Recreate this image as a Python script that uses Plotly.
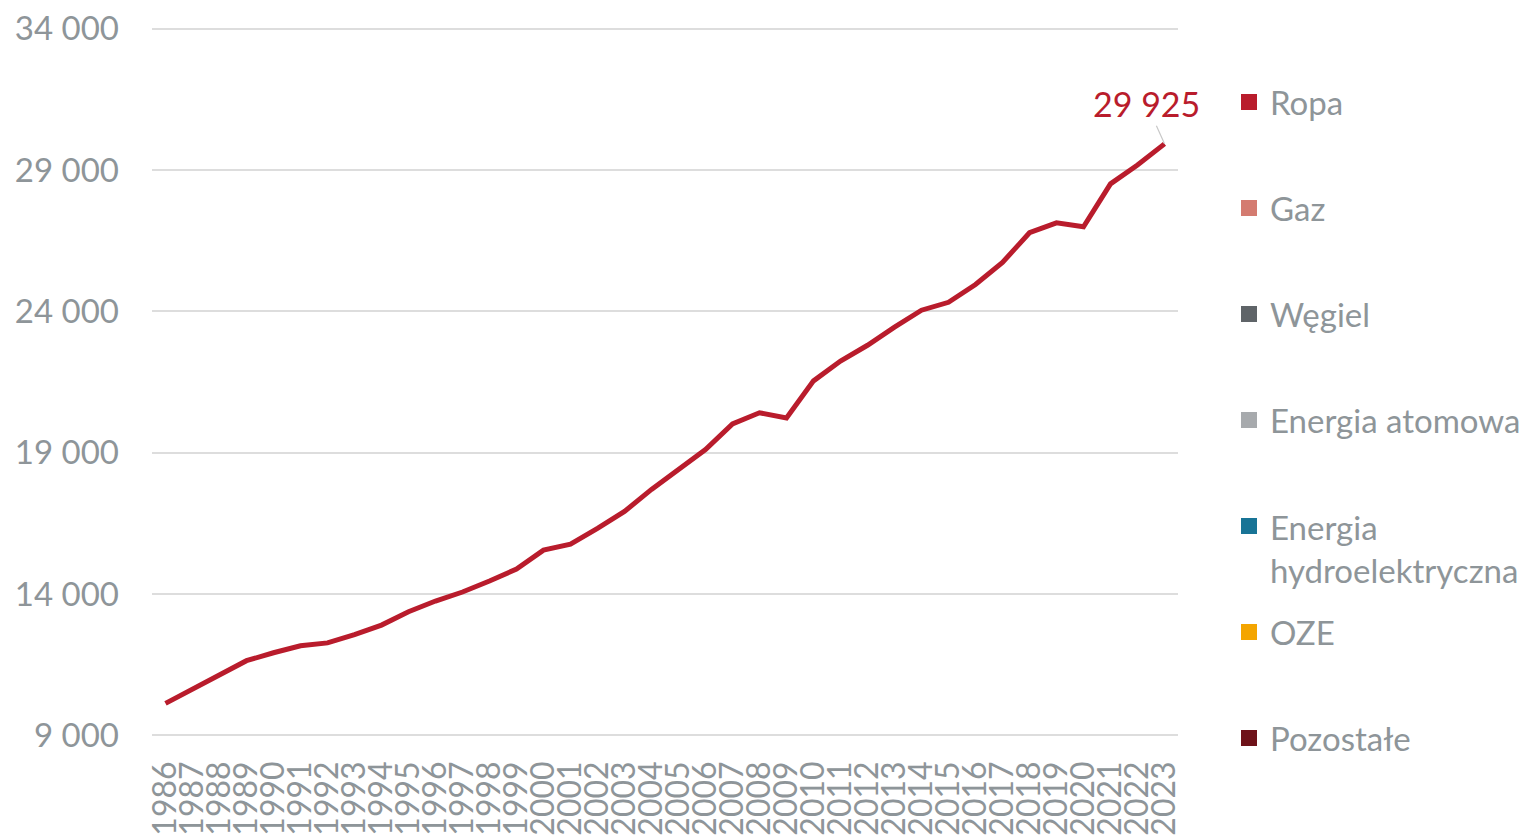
import plotly.graph_objects as go

# data
years = list(range(1986, 2024))
ropa = [10130, 10620, 11110, 11640, 11920, 12170, 12270, 12560, 12900, 13370,
        13750, 14070, 14460, 14880, 15550, 15760, 16320, 16920, 17700, 18400,
        19110, 20020, 20410, 20230, 21540, 22240, 22800, 23440, 24040, 24320,
        24950, 25730, 26780, 27130, 26990, 28510, 29180, 29925]

series_names = ["Ropa", "Gaz", "Węgiel", "Energia atomowa",
                "Energia<br>hydroelektryczna", "OZE", "Pozostałe"]
series_colors = ["#B91C2C", "#D47B70", "#5F6468", "#A7AAAD",
                 "#187496", "#F4A500", "#6E1219"]

y_ticks = [9000, 14000, 19000, 24000, 29000, 34000]

W, H = 1540, 835
OFF = 8   # page body margin
L, R, T, B = 152 - OFF, 1178 - OFF, 27 - OFF, 737 - OFF   # plot area in pixels
FONT = "Lato"
GRAY = "#8E9599"


def px(x):
    return (x - OFF - L) / (R - L)


def py(y):
    return (B - (y - OFF)) / (B - T)


fig = go.Figure()
fig.add_trace(go.Scatter(x=[str(y) for y in years], y=ropa, mode="lines",
                         line=dict(color=series_colors[0], width=5),
                         showlegend=False))

# value label on the last point
fig.add_annotation(x=len(years) - 1, y=ropa[-1], text=f"{ropa[-1]:,}".replace(",", " "),
                   showarrow=True, arrowhead=0, arrowwidth=1.2, arrowcolor="#C8C8C8",
                   ax=-18, ay=-40, font=dict(family=FONT, size=34, color=series_colors[0]))

# legend drawn by hand so the spacing matches
shapes = []
for i, (name, col) in enumerate(zip(series_names, series_colors)):
    cy = 102 + 106 * i
    shapes.append(dict(type="rect", xref="paper", yref="paper",
                       x0=px(1241), x1=px(1257), y0=py(cy + 8), y1=py(cy - 8),
                       fillcolor=col, line=dict(width=0)))
    ty = cy + 22 if "<br>" in name else cy
    fig.add_annotation(xref="paper", yref="paper", x=px(1268), y=py(ty),
                       xanchor="left", yanchor="middle", align="left",
                       text=name, showarrow=False,
                       font=dict(family=FONT, size=33, color=GRAY))

fig.update_layout(
    width=W, height=H,
    margin=dict(l=L, r=W - R, t=T, b=H - B, autoexpand=False),
    paper_bgcolor="white", plot_bgcolor="white",
    separators=", ",
    shapes=shapes,
    font=dict(family=FONT, color=GRAY),
)
fig.update_yaxes(range=[8940, 34060], tickvals=y_ticks, tickformat=",d",
                 showgrid=True, gridcolor="#DDDDDD", gridwidth=1.5,
                 zeroline=False, showline=False, ticks="",
                 tickfont=dict(family=FONT, size=33, color=GRAY),
                 ticklabelstandoff=32, ticklabeloverflow="allow")
fig.update_xaxes(type="category", range=[-0.5, len(years) - 0.5],
                 tickmode="linear", tick0=0, dtick=1,
                 showgrid=False, zeroline=False, showline=False, ticks="",
                 tickangle=-90, tickfont=dict(family=FONT, size=32, color=GRAY),
                 ticklabelstandoff=17, ticklabeloverflow="allow")

fig.write_html("out.html")
